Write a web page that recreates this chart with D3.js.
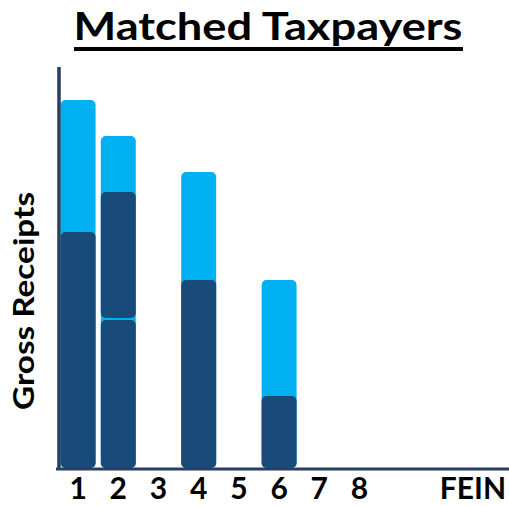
<!DOCTYPE html>
<html>
<head>
<meta charset="utf-8">
<script src="https://cdn.jsdelivr.net/npm/d3@7"></script>
<style>
  body { margin: 0; background: #fff; }
  text { font-family: Lato, "Open Sans", "DejaVu Sans", sans-serif; font-weight: bold; }
</style>
</head>
<body>
<div id="chart"></div>
<script>
// data
var categories = ["1", "2", "3", "4", "5", "6", "7", "8", "9", "10", "11"];
var tickLabels = ["1", "2", "3", "4", "5", "6", "7", "8", "", "", "FEIN"];
var darkLow  = [59, 37, 0, 47, 0, 18, 0, 0, 0, 0, 0];
var darkHigh = [0, 32, 0, 0, 0, 0, 0, 0, 0, 0, 0];
var lightTop = [33, 14, 0, 27, 0, 29, 0, 0, 0, 0, 0];

var W = 509, H = 506;
var margin = {top: 68, right: 0, bottom: 38, left: 58},
    width = W - margin.left - margin.right,
    height = H - margin.top - margin.bottom;

var svg = d3.select("#chart")
  .append("svg")
    .attr("width", W)
    .attr("height", H);

var g = svg.append("g")
    .attr("transform", "translate(" + margin.left + "," + margin.top + ")");

var x = d3.scaleBand()
    .domain(categories)
    .range([0, 40.2 * categories.length])
    .paddingInner(0.13)
    .paddingOuter(0.065);

var y = d3.scaleLinear()
    .domain([0, 100])
    .range([height, 0]);

var rows = categories.map(function(c, i) {
  return {cat: c, low: darkLow[i], high: darkHigh[i], light: lightTop[i]};
});

// light bar behind (full total height)
g.selectAll("rect.light")
  .data(rows.filter(function(d) { return d.low + d.high + d.light > 0; }))
  .enter().append("rect")
    .attr("class", "light")
    .attr("x", function(d) { return x(d.cat); })
    .attr("y", function(d) { return y(d.low + d.high + d.light); })
    .attr("width", x.bandwidth())
    .attr("height", function(d) { return height - y(d.low + d.high + d.light); })
    .attr("rx", 5)
    .style("fill", "#00b0f0");

// dark segments stacked on top
var segs = [];
rows.forEach(function(d) {
  if (d.low > 0) segs.push({cat: d.cat, y0: 0, y1: d.low});
  if (d.high > 0) segs.push({cat: d.cat, y0: d.low, y1: d.low + d.high});
});

g.selectAll("rect.dark")
  .data(segs)
  .enter().append("rect")
    .attr("class", "dark")
    .attr("x", function(d) { return x(d.cat); })
    .attr("y", function(d) { return y(d.y1); })
    .attr("width", x.bandwidth())
    .attr("height", function(d) { return y(d.y0) - y(d.y1) - (d.y0 > 0 ? 2 : 0); })
    .attr("rx", 5)
    .style("fill", "#184a7a");

// axes
var xAxis = g.append("g")
    .attr("transform", "translate(0," + height + ")")
    .call(d3.axisBottom(x).tickSize(0)
      .tickFormat(function(d, i) { return tickLabels[i]; }));
xAxis.select(".domain").remove();
xAxis.selectAll("text")
    .attr("y", 31)
    .attr("dy", 0)
    .style("font-size", "30px")
    .style("fill", "#000");

// last label sits flush with the right edge
var lastCat = categories[categories.length - 1];
xAxis.selectAll(".tick")
  .filter(function(d) { return d === lastCat; })
  .select("text")
    .attr("text-anchor", "end")
    .attr("x", (W - 3 - margin.left) - (x(lastCat) + x.bandwidth() / 2));

g.append("line")
    .attr("x1", -2).attr("x2", width + 2)
    .attr("y1", height + 1).attr("y2", height + 1)
    .style("stroke", "#263f63")
    .style("stroke-width", 3);

g.append("line")
    .attr("x1", 1).attr("x2", 1)
    .attr("y1", -1).attr("y2", height + 2)
    .style("stroke", "#263f63")
    .style("stroke-width", 3.5);

// title
svg.append("text")
    .attr("x", 268)
    .attr("y", 40)
    .attr("text-anchor", "middle")
    .attr("textLength", 389)
    .attr("lengthAdjust", "spacingAndGlyphs")
    .style("font-size", "38px")
    .style("fill", "#000")
    .text("Matched Taxpayers");

svg.append("line")
    .attr("x1", 74).attr("x2", 463)
    .attr("y1", 49).attr("y2", 49)
    .style("stroke", "#000")
    .style("stroke-width", 4);

// y label
svg.append("text")
    .attr("transform", "translate(34,301) rotate(-90)")
    .attr("text-anchor", "middle")
    .attr("textLength", 218)
    .attr("lengthAdjust", "spacingAndGlyphs")
    .style("font-size", "28px")
    .style("fill", "#000")
    .text("Gross Receipts");
</script>
</body>
</html>
